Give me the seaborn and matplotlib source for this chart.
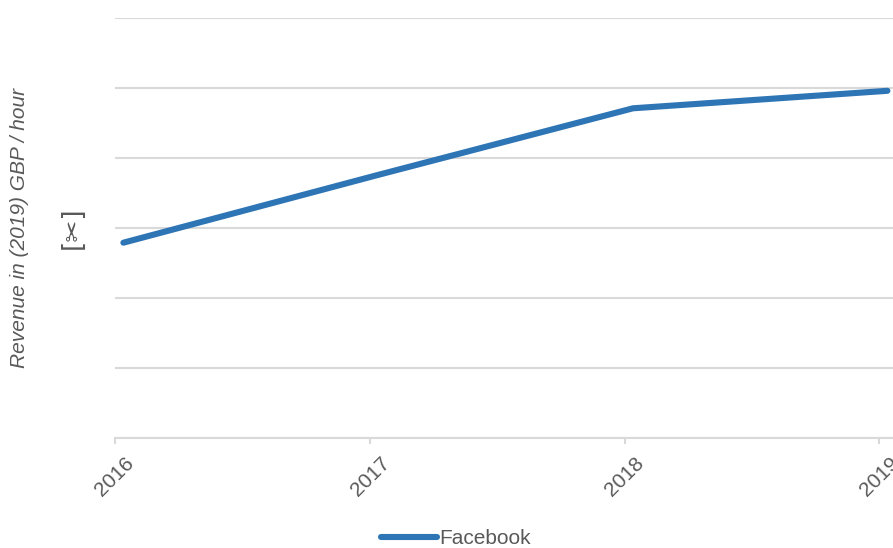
import matplotlib
matplotlib.use("Agg")
import matplotlib.pyplot as plt
import seaborn as sns
import pandas as pd
import numpy as np

# ---- data ----
dates = ["2016-01-13", "2017-01-13", "2018-01-13", "2019-01-13"]
revenue = [27.9, 37.6, 47.1, 49.6]
series_name = "Facebook"
tick_years = ["2016", "2017", "2018", "2019"]

df = pd.DataFrame({"date": pd.to_datetime(dates), "revenue": revenue,
                   "series": [series_name] * len(dates)})

sns.set_style("white")
plt.rcParams["font.family"] = ["Liberation Sans", "DejaVu Sans"]

GRAY_TXT = "#595959"
GRID = "#d9d9d9"
BLUE = "#2e75b6"

fig = plt.figure(figsize=(8.93, 5.48), dpi=100)
ax = fig.add_axes([115 / 893, 110 / 548, 778 / 893, 420 / 548])

sns.lineplot(data=df, x="date", y="revenue", hue="series", palette=[BLUE],
             linewidth=4.4, ax=ax, legend=False, solid_capstyle="round")

ax.set_ylim(0, 60)
ax.set_yticks(np.arange(0, 61, 10))
ax.yaxis.grid(True, color=GRID, linewidth=1.5)
ax.xaxis.grid(False)
ax.tick_params(axis="y", left=False, labelleft=False)

ticks = pd.to_datetime([y + "-01-01" for y in tick_years])
ax.set_xticks(ticks)
ax.set_xticklabels(tick_years, rotation=45, ha="center", color=GRAY_TXT, fontsize=15)
ax.set_xlim(pd.Timestamp("2016-01-01"), pd.Timestamp("2019-01-21"))
ax.tick_params(axis="x", bottom=True, length=4, width=1.5, color=GRID, pad=7)

for s in ["top", "right", "left"]:
    ax.spines[s].set_visible(False)
ax.spines["bottom"].set_color(GRID)
ax.spines["bottom"].set_linewidth(1.5)
ax.set_xlabel("")
ax.set_ylabel("")

fig.text(20 / 893, 1 - 228 / 548, "Revenue in (2019) GBP / hour", rotation=90,
         ha="center", va="center", fontsize=15, style="italic", color=GRAY_TXT)
fig.text(73 / 893, 1 - 228 / 548, "[✂]", rotation=90, ha="center", va="center",
         fontsize=19, color=GRAY_TXT, family=["DejaVu Sans"])

handle = plt.Line2D([], [], color=BLUE, linewidth=4.4, solid_capstyle="round")
fig.legend([handle], [series_name], loc="center",
           bbox_to_anchor=(456 / 893, 1 - 539 / 548), frameon=False,
           fontsize=15, handlelength=2.7, handletextpad=0.1, labelcolor=GRAY_TXT)

fig.savefig("out.png", dpi=100)
